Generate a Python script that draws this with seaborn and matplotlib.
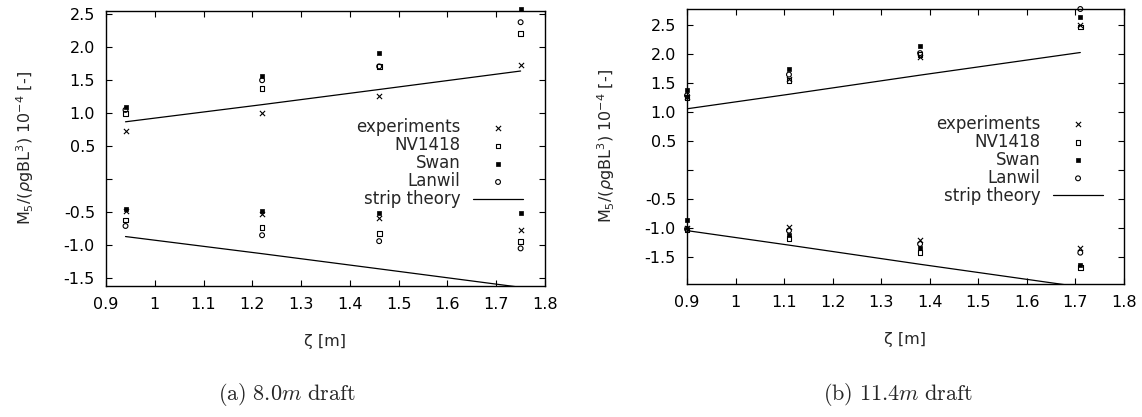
import numpy as np
import pandas as pd
import matplotlib
matplotlib.use("Agg")
import matplotlib.pyplot as plt
import seaborn as sns

# ---------------- data ----------------
# (a) 8.0 m draft
zeta_a = [0.94, 1.22, 1.46, 1.75]
exp_a_up = [0.73, 1.00, 1.26, 1.73]
exp_a_lo = [-0.48, -0.53, -0.59, -0.77]
nv_a_up = [1.00, 1.37, 1.71, 2.21]
nv_a_lo = [-0.62, -0.73, -0.82, -0.94]
swan_a_up = [1.09, 1.56, 1.91, 2.58]
swan_a_lo = [-0.45, -0.48, -0.52, -0.51]
lw_a_up = [1.05, 1.50, 1.71, 2.38]
lw_a_lo = [-0.71, -0.85, -0.94, -1.05]
strip_a_up = [0.87, 1.13, 1.36, 1.64]
strip_a_lo = [-0.87, -1.13, -1.36, -1.64]

# (b) 11.4 m draft
zeta_b = [0.90, 1.11, 1.38, 1.71]
exp_b_up = [1.26, 1.57, 1.94, 2.50]
exp_b_lo = [-1.00, -0.98, -1.21, -1.35]
nv_b_up = [1.24, 1.54, 1.99, 2.46]
nv_b_lo = [-1.04, -1.18, -1.43, -1.68]
swan_b_up = [1.38, 1.74, 2.14, 2.63]
swan_b_lo = [-0.87, -1.12, -1.35, -1.65]
lw_b_up = [1.28, 1.64, 2.01, 2.77]
lw_b_lo = [-1.02, -1.05, -1.28, -1.43]
strip_b_up = [1.05, 1.30, 1.63, 2.02]
strip_b_lo = [-1.05, -1.30, -1.63, -2.02]

series_names = ["experiments", "NV1418", "Swan", "Lanwil"]
xticks = [0.9, 1.0, 1.1, 1.2, 1.3, 1.4, 1.5, 1.6, 1.7, 1.8]
xticklabels = ["0.9", "1", "1.1", "1.2", "1.3", "1.4", "1.5", "1.6", "1.7", "1.8"]
yticks = [-1.5, -1.0, -0.5, 0.0, 0.5, 1.0, 1.5, 2.0, 2.5]
yticklabels = ["-1.5", "-1.0", "-0.5", "", "0.5", "1.0", "1.5", "2.0", "2.5"]
captions = [r"$\mathrm{(a)\ 8.0}m\mathrm{\ draft}$", r"$\mathrm{(b)\ 11.4}m\mathrm{\ draft}$"]
xlabel = "ζ [m]"
ylabel = r"M$_5$/($\rho$gBL$^3$) 10$^{-4}$ [-]"

# ---------------- style ----------------
sns.set_style("ticks")
plt.rcParams["font.family"] = ["DejaVu Sans"]
plt.rcParams["mathtext.fontset"] = "dejavusans"

def make_df(z, groups):
    rows = []
    for name, (up, lo) in groups.items():
        for zz, v in zip(z, up):
            rows.append((zz, v, name, "up"))
        for zz, v in zip(z, lo):
            rows.append((zz, v, name, "lo"))
    return pd.DataFrame(rows, columns=["zeta", "M", "series", "branch"])

df_a = make_df(zeta_a, {"experiments": (exp_a_up, exp_a_lo), "NV1418": (nv_a_up, nv_a_lo),
                        "Swan": (swan_a_up, swan_a_lo), "Lanwil": (lw_a_up, lw_a_lo),
                        "strip theory": (strip_a_up, strip_a_lo)})
df_b = make_df(zeta_b, {"experiments": (exp_b_up, exp_b_lo), "NV1418": (nv_b_up, nv_b_lo),
                        "Swan": (swan_b_up, swan_b_lo), "Lanwil": (lw_b_up, lw_b_lo),
                        "strip theory": (strip_b_up, strip_b_lo)})

marker_kws = {
    "experiments": dict(marker="x", color="black", s=14, linewidth=0.8),
    "NV1418": dict(marker="s", facecolors="none", edgecolors="black", s=12, linewidth=0.8),
    "Swan": dict(marker="s", color="black", edgecolors="black", s=12, linewidth=0.5),
    "Lanwil": dict(marker="o", facecolors="none", edgecolors="black", s=12, linewidth=0.8),
}

fig = plt.figure(figsize=(11.42, 4.17), dpi=100)
ax_a = fig.add_axes([106 / 1142, 1 - 286 / 417, 439 / 1142, 275 / 417])
ax_b = fig.add_axes([687 / 1142, 1 - 284 / 417, 437 / 1142, 275 / 417])

panels = [(ax_a, df_a, (-1.62, 2.55), (0.95, 0.446)),
          (ax_b, df_b, (-1.97, 2.77), (0.952, 0.452))]

for ax, df, ylim, legpos in panels:
    for name in series_names:
        sub = df[df.series == name]
        sns.scatterplot(data=sub, x="zeta", y="M", ax=ax, label=name,
                        clip_on=False, zorder=3, legend=False, **marker_kws[name])
    st = df[df.series == "strip theory"]
    sns.lineplot(data=st[st.branch == "up"], x="zeta", y="M", ax=ax, color="black",
                 lw=0.9, label="strip theory", legend=False)
    sns.lineplot(data=st[st.branch == "lo"], x="zeta", y="M", ax=ax, color="black",
                 lw=0.9, legend=False)
    ax.set_xlim(0.9, 1.8)
    ax.set_ylim(*ylim)
    ax.set_xticks(xticks)
    ax.set_xticklabels(xticklabels)
    ax.set_yticks(yticks)
    ax.set_yticklabels(yticklabels)
    ax.tick_params(direction="in", top=True, right=True, length=4, width=0.8,
                   labelsize=11.5, pad=8, colors="black")
    for sp in ax.spines.values():
        sp.set_linewidth(1.0)
        sp.set_color("black")
    ax.set_xlabel(xlabel, fontsize=11.5)
    ax.set_ylabel(ylabel, fontsize=11.5)
    ax.xaxis.set_label_coords(0.5, -0.175)
    ax.yaxis.set_label_coords(-0.16, 0.5)
    handles, labels = ax.get_legend_handles_labels()
    order = ["experiments", "NV1418", "Swan", "Lanwil", "strip theory"]
    hmap = dict(zip(labels, handles))
    ax.legend([hmap[o] for o in order], order, loc="center right", bbox_to_anchor=legpos,
              markerfirst=False, frameon=False, fontsize=12, handlelength=3.0,
              handletextpad=0.75, labelspacing=0.0, borderpad=0, borderaxespad=0,
              scatterpoints=1)

plt.rcParams["mathtext.fontset"] = "cm"
fig.text(287 / 1142, 1 - 395 / 417, captions[0], ha="center", va="center", fontsize=16)
fig.text(898 / 1142, 1 - 395 / 417, captions[1], ha="center", va="center", fontsize=16)

fig.savefig("out.png", dpi=100, facecolor="white")
